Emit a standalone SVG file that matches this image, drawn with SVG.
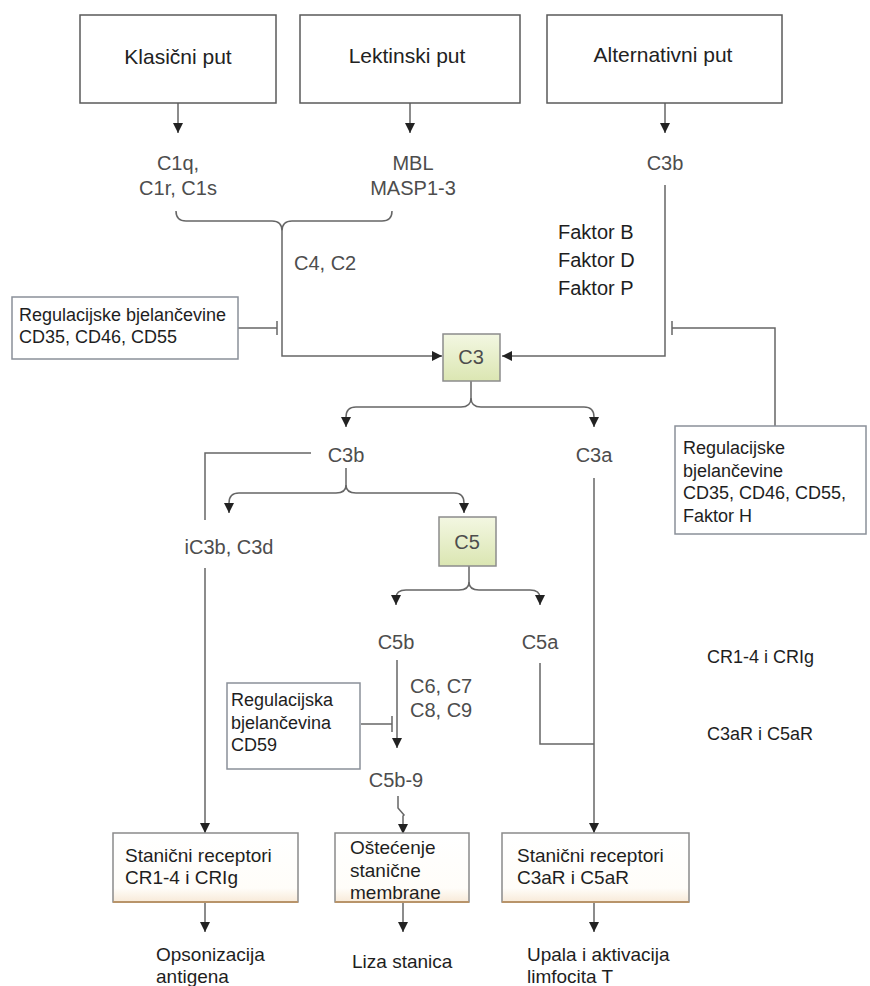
<svg xmlns="http://www.w3.org/2000/svg" width="870" height="986" viewBox="0 0 870 986">
<style>
.bg{fill:#ffffff}
.top{fill:#ffffff;stroke:#5a5a5a;stroke-width:1.5}
.reg{fill:#ffffff;stroke:#8a9099;stroke-width:1.5}
.cbox{fill:url(#gc);stroke:#8c8c8c;stroke-width:1.5}
.rec{fill:url(#gr);stroke:#8a8a8a;stroke-width:1.5}
.recb{stroke:#b8946a;stroke-width:1.8;fill:none}
.ln{fill:none;stroke:#666666;stroke-width:1.5}
.ar{fill:none;stroke:#666666;stroke-width:1.5;marker-end:url(#ah)}
.t1{font-family:"Liberation Sans",Arial,sans-serif;font-size:21px;fill:#222222;text-anchor:middle}
.g{font-family:"Liberation Sans",Arial,sans-serif;font-size:20px;fill:#4d4d4d}
.gm{text-anchor:middle}
.c{font-family:"Liberation Sans",Arial,sans-serif;font-size:18px;fill:#1e1e1e}
.cb{font-family:"Liberation Sans",Arial,sans-serif;font-size:19px;fill:#1e1e1e}
</style>
<defs>
<linearGradient id="gc" x1="0" y1="0" x2="0" y2="1">
<stop offset="0" stop-color="#f3f7e2"/>
<stop offset="1" stop-color="#dbe6b2"/>
</linearGradient>
<linearGradient id="gr" x1="0" y1="0" x2="0" y2="1">
<stop offset="0" stop-color="#ffffff"/>
<stop offset="0.8" stop-color="#fffdf9"/>
<stop offset="1" stop-color="#f8ead8"/>
</linearGradient>
<marker id="ah" viewBox="0 0 10 10" refX="10" refY="5" markerWidth="10" markerHeight="10" markerUnits="userSpaceOnUse" orient="auto">
<path d="M0,0 L10,5 L0,10 z" fill="#222222"/>
</marker>
</defs>
<rect class="bg" x="0" y="0" width="870" height="986"/>

<g id="connectors">
<line class="ar" x1="178" y1="103" x2="178" y2="133"/>
<line class="ar" x1="410" y1="103" x2="410" y2="133"/>
<line class="ar" x1="665" y1="103" x2="665" y2="133"/>
<path class="ln" d="M176 211 Q176 221 186 221 L272 221 Q282 221 282 231 Q282 221 292 221 L382 221 Q392 221 392 211"/>
<path class="ar" d="M282 231 L282 356 L442 356"/>
<path class="ar" d="M665 185 L665 356 L502 356"/>
<line class="ln" x1="238" y1="328" x2="277" y2="328"/>
<line class="ln" x1="277" y1="321" x2="277" y2="335"/>
<path class="ln" d="M775 426 L775 328 L672 328"/>
<line class="ln" x1="672" y1="321" x2="672" y2="335"/>
<path class="ar" d="M471 381 L471 398 Q471 407 461 407 L356 407 Q346 407 346 417 L346 427"/>
<path class="ar" d="M471 398 Q471 407 481 407 L584 407 Q594 407 594 417 L594 427"/>
<path class="ln" d="M311 453 L205 453 L205 520"/>
<line class="ar" x1="205" y1="568" x2="205" y2="833"/>
<path class="ar" d="M346 468 L346 485 Q346 493 336 493 L239 493 Q229 493 229 503 L229 513"/>
<path class="ar" d="M346 485 Q346 493 356 493 L454 493 Q464 493 464 503 L464 513"/>
<line class="ar" x1="594" y1="478" x2="594" y2="833"/>
<path class="ar" d="M469 566 L469 582 Q469 590 459 590 L406 590 Q396 590 396 598 L396 605"/>
<path class="ar" d="M469 582 Q469 590 479 590 L530 590 Q540 590 540 598 L540 605"/>
<line class="ar" x1="397" y1="660" x2="397" y2="748"/>
<line class="ln" x1="361" y1="724" x2="392" y2="724"/>
<line class="ln" x1="392" y1="716" x2="392" y2="732"/>
<path class="ln" d="M540 663 L540 744 L594 744"/>
<path class="ar" d="M398 796 L398 808 L404 815 L403 816 L403 834"/>
<line class="ar" x1="205" y1="902" x2="205" y2="932"/>
<line class="ar" x1="403" y1="902" x2="403" y2="932"/>
<line class="ar" x1="594" y1="902" x2="594" y2="932"/>
</g>

<g id="klasicni">
<rect class="top" x="80" y="15" width="196" height="88"/>
<text class="t1" x="178" y="64">Klasični put</text>
</g>
<g id="lektinski">
<rect class="top" x="300" y="15" width="220" height="88"/>
<text class="t1" x="407" y="63">Lektinski put</text>
</g>
<g id="alternativni">
<rect class="top" x="547" y="15" width="235" height="88"/>
<text class="t1" x="663" y="62">Alternativni put</text>
</g>

<g id="c1">
<text class="g gm" x="178" y="170">C1q,</text>
<text class="g gm" x="178" y="195">C1r, C1s</text>
</g>
<g id="mbl">
<text class="g gm" x="413" y="170">MBL</text>
<text class="g gm" x="413" y="195">MASP1-3</text>
</g>
<g id="c3b-top">
<text class="g gm" x="665" y="170">C3b</text>
</g>
<g id="c4c2">
<text class="g" x="294" y="270">C4, C2</text>
</g>
<g id="faktori">
<text class="cb" x="558" y="239" style="font-size:20px">Faktor B</text>
<text class="cb" x="558" y="267" style="font-size:20px">Faktor D</text>
<text class="cb" x="558" y="295" style="font-size:20px">Faktor P</text>
</g>

<g id="reg-left">
<rect class="reg" x="12" y="297" width="226" height="62"/>
<text class="c" x="19" y="321">Regulacijske bjelančevine</text>
<text class="c" x="19" y="343">CD35, CD46, CD55</text>
</g>

<g id="c3">
<rect class="cbox" x="443" y="334" width="57" height="47"/>
<text class="g gm" x="471" y="364">C3</text>
</g>

<g id="reg-right">
<rect class="reg" x="675" y="426" width="191" height="108"/>
<text class="c" x="683" y="454">Regulacijske</text>
<text class="c" x="683" y="477">bjelančevine</text>
<text class="c" x="683" y="499">CD35, CD46, CD55,</text>
<text class="c" x="683" y="522">Faktor H</text>
</g>

<g id="c3b">
<text class="g gm" x="346" y="462">C3b</text>
</g>
<g id="c3a">
<text class="g gm" x="594" y="462">C3a</text>
</g>
<g id="ic3b">
<text class="g gm" x="229" y="554">iC3b, C3d</text>
</g>

<g id="c5">
<rect class="cbox" x="439" y="517" width="57" height="49"/>
<text class="g gm" x="467" y="549">C5</text>
</g>

<g id="c5b">
<text class="g gm" x="396" y="649">C5b</text>
</g>
<g id="c5a">
<text class="g gm" x="540" y="649">C5a</text>
</g>
<g id="c6c9">
<text class="g" x="410" y="693">C6, C7</text>
<text class="g" x="410" y="717">C8, C9</text>
</g>

<g id="reg-cd59">
<rect class="reg" x="227" y="683" width="133" height="86"/>
<text class="c" x="231" y="706">Regulacijska</text>
<text class="c" x="231" y="729">bjelančevina</text>
<text class="c" x="231" y="751">CD59</text>
</g>

<g id="c5b9">
<text class="g gm" x="396" y="787">C5b-9</text>
</g>

<g id="side-labels">
<text class="c" x="707" y="663">CR1-4 i CRIg</text>
<text class="c" x="707" y="740">C3aR i C5aR</text>
</g>

<g id="rec-cr">
<rect class="rec" x="113" y="833" width="185" height="69"/>
<line class="recb" x1="113" y1="902" x2="298" y2="902"/>
<text class="cb" x="125" y="862">Stanični receptori</text>
<text class="cb" x="125" y="884">CR1-4 i CRIg</text>
</g>
<g id="ostecenje">
<rect class="rec" x="335" y="833" width="134" height="69"/>
<line class="recb" x1="335" y1="902" x2="469" y2="902"/>
<text class="cb" x="350" y="854">Oštećenje</text>
<text class="cb" x="350" y="877">stanične</text>
<text class="cb" x="350" y="899">membrane</text>
</g>
<g id="rec-c3ar">
<rect class="rec" x="502" y="833" width="187" height="69"/>
<line class="recb" x1="502" y1="902" x2="689" y2="902"/>
<text class="cb" x="517" y="862">Stanični receptori</text>
<text class="cb" x="517" y="884">C3aR i C5aR</text>
</g>

<g id="opsonizacija">
<text class="cb" x="156" y="961">Opsonizacija</text>
<text class="cb" x="156" y="983">antigena</text>
</g>
<g id="liza">
<text class="cb" x="352" y="968">Liza stanica</text>
</g>
<g id="upala">
<text class="cb" x="527" y="961">Upala i aktivacija</text>
<text class="cb" x="527" y="983">limfocita T</text>
</g>
</svg>
